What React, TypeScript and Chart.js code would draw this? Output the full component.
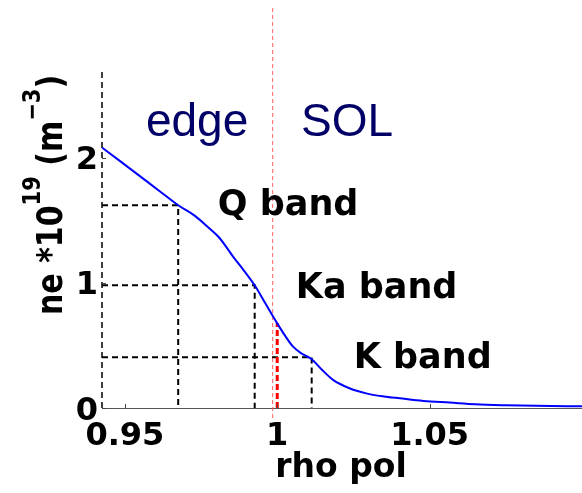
import { useEffect, useRef } from "react";
import { Chart, registerables } from "chart.js";

Chart.register(...registerables);

// Electron density profile across the separatrix
const rhoPol = [
  0.9425, 0.948, 0.9545, 0.961, 0.9675, 0.973, 0.9775, 0.981, 0.9855, 0.989,
  0.9926, 0.996, 1.0, 1.0025, 1.0052, 1.008, 1.0113, 1.0145, 1.0183, 1.0235,
  1.0292, 1.035, 1.0402, 1.048, 1.0566, 1.065, 1.075, 1.085, 1.1,
];
const density = [
  2.08, 1.98, 1.86, 1.74, 1.62, 1.535, 1.44, 1.36, 1.21, 1.1,
  0.98, 0.84, 0.676, 0.58, 0.49, 0.435, 0.39, 0.31, 0.225, 0.16,
  0.117, 0.092, 0.077, 0.056, 0.043, 0.03, 0.022, 0.017, 0.014,
];

// Reflectometer cut-off layers
const bandNames = ["Q band", "Ka band", "K band"];
const cutoffRho = [0.9675, 0.9926, 1.0113];
const cutoffDensity = [1.62, 0.98, 0.405];
const bandLabelRho = [0.9805, 1.0061, 1.0251];
const bandLabelDensity = [1.541, 0.879, 0.319];

// Separatrix markers
const separatrixRho = 1.0;
const separatrixDensity = [0, 0.676];
const guideRho = 0.9985;
const guideDensity = [-0.08, 3.2];

// Region names
const regionNames = ["edge", "SOL"];
const regionRho = [0.9569, 1.0078];
const regionDensity = [2.173, 2.173];

// Axes
const X_MIN = 0.9425;
const X_MAX = 1.1;
const Y_MIN = 0;
const Y_MAX = 2.7;
const xTicks = [0.95, 1, 1.05];
const xTickLabels = ["0.95", "1", "1.05"];
const yTicks = [0, 1, 2];
const yTickLabels = ["0", "1", "2"];

const BOLD = "'DejaVu Sans', sans-serif";

const textPlugin = {
  id: "profileText",
  afterDraw(chart: any) {
    const ctx: CanvasRenderingContext2D = chart.ctx;
    const xs = chart.scales.x;
    const ys = chart.scales.y;
    const area = chart.chartArea;
    ctx.save();

    // inward tick marks
    ctx.strokeStyle = "#444";
    ctx.lineWidth = 1;
    ctx.setLineDash([]);
    xTicks.forEach((v) => {
      const px = Math.round(xs.getPixelForValue(v)) + 0.5;
      ctx.beginPath();
      ctx.moveTo(px, area.bottom);
      ctx.lineTo(px, area.bottom - 4);
      ctx.stroke();
    });
    yTicks.forEach((v) => {
      const py = Math.round(ys.getPixelForValue(v)) + 0.5;
      ctx.beginPath();
      ctx.moveTo(area.left, py);
      ctx.lineTo(area.left + 4, py);
      ctx.stroke();
    });

    // tick labels
    ctx.fillStyle = "#000";
    ctx.font = `bold 32px ${BOLD}`;
    ctx.textBaseline = "alphabetic";
    ctx.textAlign = "center";
    xTicks.forEach((v, i) => {
      ctx.fillText(xTickLabels[i], xs.getPixelForValue(v), 445);
    });
    ctx.textAlign = "right";
    yTicks.forEach((v, i) => {
      ctx.fillText(yTickLabels[i], area.left - 4, ys.getPixelForValue(v) + 11.5);
    });

    // x title
    ctx.textAlign = "center";
    ctx.font = `bold 33px ${BOLD}`;
    ctx.fillText("rho pol", (area.left + area.right) / 2 - 1, 477);

    // y title with superscripts, rotated
    ctx.save();
    ctx.translate(62, 315);
    ctx.rotate(-Math.PI / 2);
    ctx.scale(1, 1.2);
    ctx.textAlign = "left";
    const parts: [string, boolean][] = [
      ["ne *10", false],
      ["19", true],
      [" (m", false],
      ["\u22123", true],
      [")", false],
    ];
    let u = 0;
    parts.forEach(([t, sup]) => {
      ctx.font = sup ? `bold 21px ${BOLD}` : `bold 30px ${BOLD}`;
      ctx.fillText(t, u, sup ? -18 : 0);
      u += ctx.measureText(t).width;
    });
    ctx.restore();

    // band labels
    ctx.textAlign = "left";
    ctx.font = `bold 35px ${BOLD}`;
    bandNames.forEach((name, i) => {
      ctx.fillText(name, xs.getPixelForValue(bandLabelRho[i]), ys.getPixelForValue(bandLabelDensity[i]));
    });

    // region labels
    ctx.fillStyle = "#000066";
    ctx.font = "46px 'Liberation Sans', Arial, sans-serif";
    regionNames.forEach((name, i) => {
      ctx.fillText(name, xs.getPixelForValue(regionRho[i]), ys.getPixelForValue(regionDensity[i]));
    });

    ctx.restore();
  },
};

export default function App() {
  const ref = useRef<HTMLCanvasElement>(null);

  useEffect(() => {
    if (!ref.current) return;

    const profile = rhoPol.map((x, i) => ({ x, y: density[i] }));
    const cutoffSets = bandNames.map((name, i) => ({
      label: name,
      data: [
        { x: X_MIN, y: cutoffDensity[i] },
        { x: cutoffRho[i], y: cutoffDensity[i] },
        { x: cutoffRho[i], y: 0 },
      ],
      borderColor: "#000",
      borderWidth: 2,
      borderDash: [6, 4],
      pointRadius: 0,
      fill: false,
    }));

    const chart = new Chart(ref.current, {
      type: "line",
      data: {
        datasets: [
          {
            label: "ne",
            data: profile,
            borderColor: "#0000ff",
            borderWidth: 2,
            pointRadius: 0,
            cubicInterpolationMode: "monotone",
            fill: false,
          },
          {
            label: "separatrix",
            data: separatrixDensity.map((y) => ({ x: separatrixRho, y })),
            borderColor: "#ff0000",
            borderWidth: 3,
            borderDash: [6, 3],
            pointRadius: 0,
            fill: false,
          },
          {
            label: "guide",
            data: guideDensity.map((y) => ({ x: guideRho, y })),
            borderColor: "rgba(255, 70, 70, 0.85)",
            borderWidth: 1,
            borderDash: [4, 3],
            pointRadius: 0,
            fill: false,
            clip: false,
          },
          {
            label: "left edge",
            data: [
              { x: X_MIN, y: Y_MIN },
              { x: X_MIN, y: Y_MAX },
            ],
            borderColor: "#000",
            borderWidth: 1.5,
            borderDash: [6, 4],
            pointRadius: 0,
            fill: false,
            clip: false,
          },
          ...cutoffSets,
        ],
      },
      options: {
        responsive: false,
        animation: false,
        layout: { padding: { top: 70, left: 0, right: 0, bottom: 0 } },
        plugins: { legend: { display: false }, tooltip: { enabled: false } },
        scales: {
          x: {
            type: "linear",
            min: X_MIN,
            max: X_MAX,
            grid: { display: false },
            ticks: { display: false },
            border: { display: true, color: "#555", width: 1 },
            afterFit: (s: any) => {
              s.height = 85;
            },
          },
          y: {
            type: "linear",
            min: Y_MIN,
            max: Y_MAX,
            grid: { display: false },
            ticks: { display: false },
            border: { display: false },
            afterFit: (s: any) => {
              s.width = 102;
            },
          },
        },
      } as any,
      plugins: [textPlugin],
    });

    return () => chart.destroy();
  }, []);

  return (
    <div style={{ position: "absolute", left: 0, top: 0, width: 582, height: 493, background: "#fff" }}>
      <canvas ref={ref} width={582} height={493} style={{ display: "block" }} />
    </div>
  );
}
